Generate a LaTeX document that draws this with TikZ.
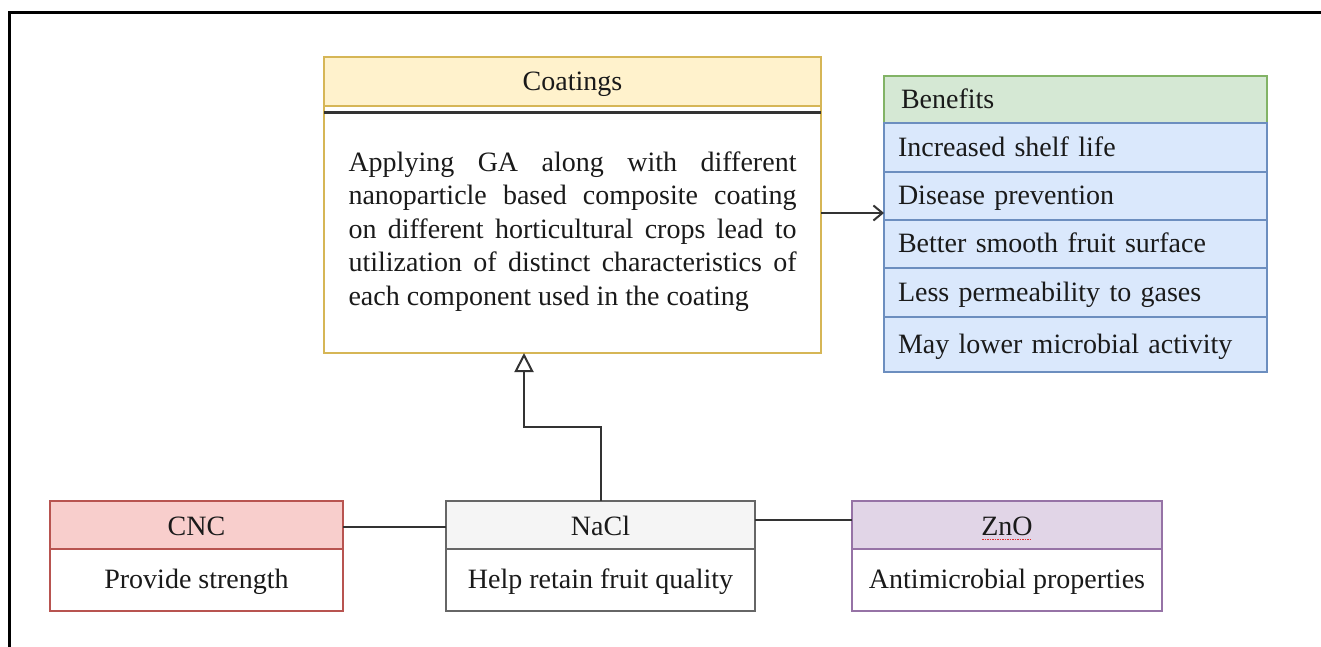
\documentclass[tikz,border=0pt]{standalone}
\usepackage{fontspec}
\setmainfont{Liberation Serif}
\usetikzlibrary{arrows.meta}
\definecolor{yelF}{HTML}{FFF2CC}\definecolor{yelD}{HTML}{D6B656}
\definecolor{grnF}{HTML}{D5E8D4}\definecolor{grnD}{HTML}{82B366}
\definecolor{bluF}{HTML}{DAE8FC}\definecolor{bluD}{HTML}{6C8EBF}
\definecolor{redF}{HTML}{F8CECC}\definecolor{redD}{HTML}{B85450}
\definecolor{gryF}{HTML}{F5F5F5}\definecolor{gryD}{HTML}{666666}
\definecolor{purF}{HTML}{E1D5E7}\definecolor{purD}{HTML}{9673A6}
\definecolor{ink}{HTML}{1A1A1A}
\definecolor{conn}{HTML}{333333}
\definecolor{spell}{HTML}{E03030}
\begin{document}
\begin{tikzpicture}[x=1pt,y=-1pt,
  font=\fontsize{28}{33.5}\selectfont, text=ink,
  box/.style={draw, line width=1.5pt, inner sep=0pt, outer sep=0pt, anchor=north west},
  oneline/.style={text height=22pt, text depth=5pt},
  lowhead/.style={text height=24pt, text depth=3pt},
  brow/.style={box, oneline, fill=bluF, draw=bluD, inner xsep=14pt, text width=355pt, align=left, minimum width=383pt},
  connline/.style={draw=conn, line width=2pt}]
\useasboundingbox (0,0) rectangle (1321,646);
% frame
\draw[line width=3pt, line cap=rect] (9,646) -- (9,12.7) -- (1321,12.7);
% Coatings
\node[box, oneline, fill=yelF, draw=yelD, minimum width=497pt, minimum height=49pt] (coath) at (324,57) {Coatings};
\node[box, fill=white, draw=yelD, minimum width=497pt, minimum height=247pt] (coatb) at (324,106) {};
\node[inner sep=0pt, text width=448pt, align=justify] (coatt) at (572.5,231.5)
  {\hyphenpenalty=10000 Applying GA along with different\linebreak nanoparticle based composite coating\linebreak on different horticultural crops lead to\linebreak utilization of distinct characteristics of\linebreak each component used in the coating};
\draw[line width=2.5pt, draw=conn] ([yshift=-6.5pt]coatb.north west) -- ([yshift=-6.5pt]coatb.north east);
% Benefits
\node[box, oneline, fill=grnF, draw=grnD, inner xsep=17pt, text width=349pt, align=left, minimum width=383pt, minimum height=47pt] (benh) at (884,76) {Benefits};
\node[brow, minimum height=49pt] (b1) at (884,123) {Increased shelf life};
\node[brow, minimum height=48pt] (b2) at (884,172) {Disease prevention};
\node[brow, minimum height=48pt] (b3) at (884,220) {Better smooth fruit surface};
\node[brow, minimum height=49pt] (b4) at (884,268) {Less permeability to gases};
\node[brow, minimum height=55pt] (b5) at (884,317) {May lower microbial activity};
\coordinate (arrY) at (0,213);
\draw[connline, -{Straight Barb[length=9pt,width=15pt]}] (coatb.east |- arrY) -- (b2.west |- arrY);
% bottom classes
\node[box, lowhead, fill=redF, draw=redD, minimum width=293pt, minimum height=48pt] (cnch) at (50,501) {CNC};
\node[box, oneline, fill=white, draw=redD, minimum width=293pt, minimum height=62pt] (cncb) at (50,549) {Provide strength};
\node[box, lowhead, fill=gryF, draw=gryD, minimum width=309pt, minimum height=48pt] (naclh) at (446,501) {NaCl};
\node[box, oneline, fill=white, draw=gryD, minimum width=309pt, minimum height=62pt] (naclb) at (446,549) {Help retain fruit quality};
\node[box, lowhead, fill=purF, draw=purD, minimum width=310pt, minimum height=48pt] (znoh) at (852,501) {ZnO};
\node[box, oneline, fill=white, draw=purD, minimum width=310pt, minimum height=62pt] (znob) at (852,549) {Antimicrobial properties};
\draw[spell, line width=1pt, dash pattern=on 1.5pt off 1pt] ([xshift=-25pt,yshift=-14pt]znoh.center) -- ([xshift=25pt,yshift=-14pt]znoh.center);
% connectors
\draw[connline] (cnch.east |- 0,527) -- (naclh.west |- 0,527);
\draw[connline] (naclh.east |- 0,520) -- (znoh.west |- 0,520);
\coordinate (k1) at (524,427);
\draw[connline, line join=miter, -{Triangle[open, length=19pt, width=19pt]}] (naclh.north) |- (k1) -- (k1 |- coatb.south);
\end{tikzpicture}
\end{document}
